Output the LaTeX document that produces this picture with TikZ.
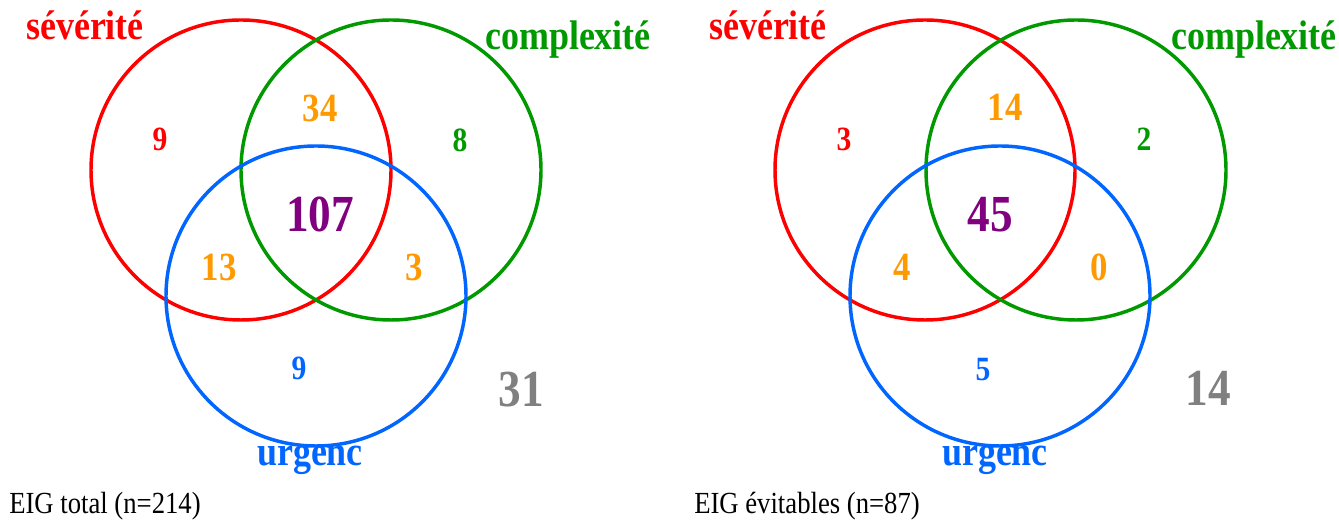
\documentclass[tikz,border=0pt]{standalone}
\usepackage{fontspec}
\setmainfont[FakeStretch=0.87]{Liberation Serif}
\definecolor{sevred}{HTML}{FF0000}
\definecolor{cpxgreen}{HTML}{009900}
\definecolor{urgblue}{HTML}{0066FF}
\definecolor{pairorange}{HTML}{FF9900}
\definecolor{allpurple}{HTML}{800080}
\definecolor{outgray}{HTML}{808080}
\tikzset{
  ring/.style={line width=2.6pt},
  setname/.style={anchor=base,inner sep=0pt,font=\bfseries\fontsize{31}{31}\selectfont},
  cnt/.style={anchor=base,inner sep=0pt,font=\bfseries\fontsize{25.5}{25.5}\selectfont},
  cntpair/.style={cnt,pairorange,font=\bfseries\fontsize{30}{30}\selectfont},
  cntall/.style={cnt,allpurple,font=\bfseries\fontsize{39}{39}\selectfont},
  cntout/.style={cnt,outgray,font=\bfseries\fontsize{39}{39}\selectfont},
  caption/.style={anchor=base west,inner sep=0pt,font=\fontsize{23}{23}\selectfont}
}

\begin{document}
\begin{tikzpicture}[x=.75pt,y=.75pt]
\useasboundingbox[fill=white] (0,0) rectangle (1339,520);
% all EIG
\draw[ring,sevred] (241,350) circle (150);
\draw[ring,cpxgreen] (391,350) circle (150);
\draw[ring,urgblue] (316,224) circle (150);
\node[setname,sevred] (sevA) at (85,480) {sévérité};
\node[setname,cpxgreen] (cpxA) at (568,470) {complexité};
\node[setname,urgblue] (urgA) at (310,54) {urgenc};
\node[cnt,sevred] (nSA) at (160,369) {9};
\node[cntpair] (nSCA) at (320,398) {34};
\node[cnt,cpxgreen] (nCA) at (460,368) {8};
\node[cntall] (nAllA) at (320,288) {107};
\node[cntpair] (nSUA) at (219,239) {13};
\node[cntpair] (nCUA) at (414,239) {3};
\node[cnt,urgblue] (nUA) at (299,140) {9};
\node[cntout] (nOutA) at (521,113) {31};
\node[caption] (capA) at (9,6) {EIG total (n=214)};
% avoidable EIG
\draw[ring,sevred] (925,350) circle (150);
\draw[ring,cpxgreen] (1076,350) circle (150);
\draw[ring,urgblue] (1000,224) circle (150);
\node[setname,sevred] (sevB) at (768,480) {sévérité};
\node[setname,cpxgreen] (cpxB) at (1254,470) {complexité};
\node[setname,urgblue] (urgB) at (995,54) {urgenc};
\node[cnt,sevred] (nSB) at (844,369) {3};
\node[cntpair] (nSCB) at (1005,399) {14};
\node[cnt,cpxgreen] (nCB) at (1144,369) {2};
\node[cntall] (nAllB) at (990,288) {45};
\node[cntpair] (nSUB) at (902,239) {4};
\node[cntpair] (nCUB) at (1099,239) {0};
\node[cnt,urgblue] (nUB) at (983,139) {5};
\node[cntout] (nOutB) at (1208,114) {14};
\node[caption] (capB) at (694,6) {EIG évitables (n=87)};
\end{tikzpicture}
\end{document}
